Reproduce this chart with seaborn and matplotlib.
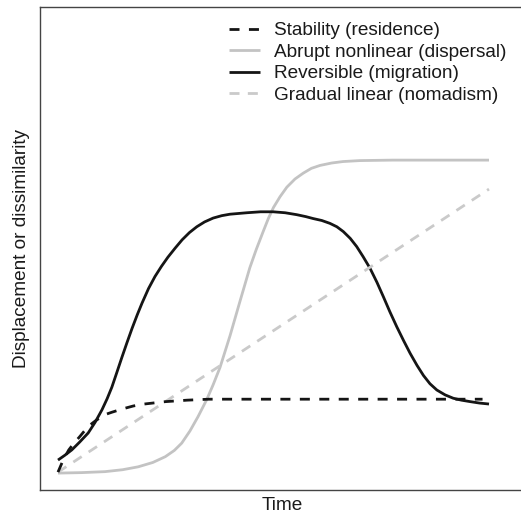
import matplotlib
matplotlib.use("Agg")
import matplotlib.pyplot as plt
import seaborn as sns

# ---- data (arbitrary units) ----
labels = ["Stability (residence)", "Abrupt nonlinear (dispersal)",
          "Reversible (migration)", "Gradual linear (nomadism)"]

stab_t = [0, 0.12, 0.25, 0.38, 0.5, 0.62, 0.75, 0.88, 1, 1.12, 1.25, 1.5, 1.75,
          2, 2.5, 3, 3.5, 5, 7, 9, 9.85]
stab_y = [0.37, 0.62, 0.83, 0.98, 1.10, 1.23, 1.35, 1.44, 1.51, 1.57, 1.61, 1.68,
          1.74, 1.78, 1.83, 1.86, 1.88, 1.88, 1.88, 1.88, 1.88]

abr_t = [0, 0.55, 1.09, 1.50, 1.86, 2.20, 2.49, 2.70, 2.87, 3.06, 3.25, 3.45, 3.60,
         3.76, 3.99, 4.22, 4.45, 4.60, 4.76, 4.88, 5.00, 5.15, 5.31, 5.50, 5.69,
         5.88, 6.08, 6.35, 6.61, 7.00, 7.77, 10.0]
abr_y = [0.35, 0.36, 0.38, 0.42, 0.48, 0.57, 0.69, 0.82, 0.97, 1.22, 1.52, 1.87, 2.18,
         2.54, 3.19, 3.90, 4.60, 4.98, 5.35, 5.62, 5.85, 6.07, 6.27, 6.44, 6.56,
         6.66, 6.72, 6.77, 6.80, 6.82, 6.83, 6.83]

rev_t = [0.00, 0.16, 0.32, 0.50, 0.70, 0.86, 1.02, 1.14, 1.25, 1.36, 1.48, 1.60,
         1.72, 1.84, 1.95, 2.10, 2.25, 2.40, 2.55, 2.72, 2.88, 3.05, 3.22, 3.40,
         3.60, 3.80, 3.99, 4.38, 4.70, 4.99, 5.27, 5.54, 5.75, 5.92, 6.12, 6.31,
         6.47, 6.62, 6.78, 6.93, 7.08, 7.24, 7.40, 7.55, 7.70, 7.86, 8.02, 8.17,
         8.33, 8.48, 8.63, 8.79, 8.98, 9.17, 9.36, 9.56, 9.78, 10.0]
rev_y = [0.62, 0.72, 0.83, 0.99, 1.18, 1.40, 1.66, 1.89, 2.13, 2.42, 2.74, 3.05,
         3.35, 3.63, 3.87, 4.17, 4.42, 4.63, 4.82, 5.01, 5.18, 5.33, 5.45, 5.55,
         5.63, 5.68, 5.71, 5.74, 5.76, 5.76, 5.74, 5.70, 5.66, 5.62, 5.58, 5.52,
         5.45, 5.35, 5.21, 5.04, 4.83, 4.59, 4.30, 4.00, 3.69, 3.38, 3.09, 2.83,
         2.58, 2.37, 2.20, 2.07, 1.97, 1.90, 1.86, 1.83, 1.80, 1.78]

grad_t = [0, 5, 10]
grad_y = [0.37, 3.30, 6.23]

sns.set_theme(style="white")
plt.rcParams["font.family"] = ["Liberation Sans", "DejaVu Sans"]

W, H = 521, 513
fig = plt.figure(figsize=(W / 100, H / 100), dpi=100)
ax = fig.add_axes([40 / W, 23 / H, 1 - 40 / W, 483 / H])

black = "#151515"
grey_solid = "#c3c3c3"
grey_dash = "#cacaca"

sns.lineplot(x=stab_t, y=stab_y, ax=ax, color=black, lw=2.0, label=labels[0], sort=False)
sns.lineplot(x=abr_t, y=abr_y, ax=ax, color=grey_solid, lw=2.0, label=labels[1], sort=False)
sns.lineplot(x=rev_t, y=rev_y, ax=ax, color=black, lw=2.0, label=labels[2], sort=False)
sns.lineplot(x=grad_t, y=grad_y, ax=ax, color=grey_dash, lw=2.0, label=labels[3], sort=False)

lines = ax.get_lines()
for ln in lines:
    ln.set_solid_joinstyle("round")
    ln.set_solid_capstyle("butt")
lines[0].set_dashes([3.6, 3.4])
lines[3].set_dashes([3.6, 3.0])
lines[0].set_zorder(4)

ax.set_xlim((40 - 58) / 43.1, (521 - 58) / 43.1)
ax.set_ylim(0, 10)
ax.set_xticks([])
ax.set_yticks([])
for s in ["left", "bottom", "top"]:
    ax.spines[s].set_color("#444444")
    ax.spines[s].set_linewidth(1.0)
ax.spines["right"].set_visible(False)

FS = 13.7
ax.set_xlabel("")
ax.set_ylabel("")
fig.text(282 / W, 1 - 506 / H, "Time", ha="center", va="center", fontsize=FS, color="#1a1a1a")
fig.text(22 / W, 1 - 248 / H, "Displacement or dissimilarity", ha="center", va="center",
         rotation=90, fontsize=FS, color="#1a1a1a")

leg = ax.legend(loc="upper left", bbox_to_anchor=(229 / W, 1 - 22 / H),
                bbox_transform=fig.transFigure, frameon=False, fontsize=FS,
                borderaxespad=0, borderpad=0, handlelength=1.63, handletextpad=0.74,
                labelspacing=0.22)
for t in leg.get_texts():
    t.set_color("#1a1a1a")

fig.savefig("out.png", dpi=100)
